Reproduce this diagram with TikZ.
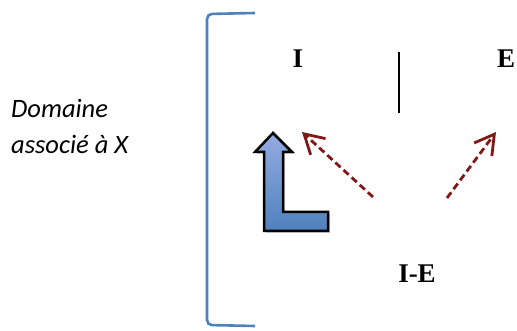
\documentclass[tikz,border=0pt]{standalone}
\usepackage{fontspec}
\setmainfont{Liberation Serif}
\newfontfamily\calib{Carlito}
\usepackage{tikz}
\usetikzlibrary{arrows.meta,shadows}

\definecolor{bracketblue}{RGB}{79,129,189}
\definecolor{arrowred}{RGB}{128,24,24}

\begin{document}
\begin{tikzpicture}[
  x=1pt, y=-1pt,
  side/.style={font=\calib\itshape\fontsize{26.5}{36}\selectfont, align=left, inner sep=0pt},
  pole/.style={font=\bfseries\fontsize{27}{30}\selectfont, inner sep=0pt},
  bracket/.style={draw=bracketblue, line width=2.6pt, rounded corners=5pt},
  bar/.style={draw=black, line width=2.8pt},
  larrow/.style={draw=black, line width=2.5pt, line join=miter, top color=blue!20!bracketblue!55, bottom color=bracketblue,
    drop shadow={opacity=0.35, shadow xshift=2pt, shadow yshift=-2pt}},
  redarrow/.style={draw=arrowred, line width=2.8pt, dash pattern=on 7pt off 4pt,
    -{Straight Barb[length=19pt, width=22pt, line width=2.8pt]}}
]
\useasboundingbox (0,0) rectangle (517,331);

% bracket on the left of the domain
\draw[bracket] (255,13) -- (207,14) -- (207,325) -- (255,326);

% labels
\node[side, anchor=west] (dom) at (11,126) {Domaine\\associé à X};
\node[pole] (nI) at (298,59) {I};
\node[pole] (nE) at (506,59) {E};
\node[pole] (nIE) at (417,274) {I-E};

% separator
\coordinate (bartop) at (399,52);
\coordinate (barbot) at (399,113);
\draw[bar] (bartop) -- (barbot);

% the L shaped arrow
\draw[larrow] (273,133) -- (292,152) -- (283,152) -- (283,212) -- (328,212)
  -- (328,231) -- (264,231) -- (264,152) -- (255,152) -- cycle;

% dashed arrows
\coordinate (s1) at (373,197);
\coordinate (t1) at (302,132);
\coordinate (s2) at (447,198);
\coordinate (t2) at (496,132);
\draw[redarrow] (s1) -- (t1);
\draw[redarrow] (s2) -- (t2);

\end{tikzpicture}
\end{document}
